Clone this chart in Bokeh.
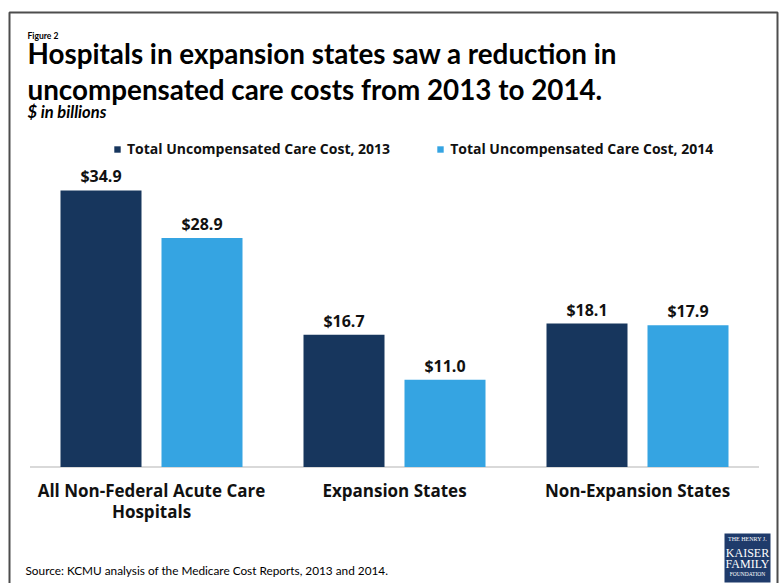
from bokeh.plotting import figure
from bokeh.models import ColumnDataSource, Label, BoxAnnotation, Range1d
from bokeh.transform import dodge
from bokeh.core.properties import value
from bokeh.embed import file_html
from bokeh.resources import INLINE

# ---- data ----
categories = ["All Non-Federal Acute Care\nHospitals", "Expansion States", "Non-Expansion States"]
cost_2013 = [34.9, 16.7, 18.1]
cost_2014 = [28.9, 11.0, 17.9]
series_names = ["Total Uncompensated Care Cost, 2013", "Total Uncompensated Care Cost, 2014"]
labels_2013 = ["$%.1f" % v for v in cost_2013]
labels_2014 = ["$%.1f" % v for v in cost_2014]

C2013 = "#17365D"
C2014 = "#35A4E2"
W, H = 783, 583

# layout constants (pixels)
GROUP_PX = 243.0          # pixels per category
FIRST_CENTER = 151.0      # x of first category centre
BASE_Y = 466.5            # y of the zero line
PX_PER_UNIT = 7.923       # pixels per $1 billion

pos = list(range(len(categories)))
src = ColumnDataSource(dict(pos=pos, cat=categories, v2013=cost_2013, v2014=cost_2014,
                            l2013=labels_2013, l2014=labels_2014, zero=[0] * len(pos)))

x0 = -FIRST_CENTER / GROUP_PX
y0 = -(H - BASE_Y) / PX_PER_UNIT
p = figure(width=W, height=H,
           x_range=Range1d(x0, x0 + W / GROUP_PX),
           y_range=Range1d(y0, y0 + H / PX_PER_UNIT),
           output_backend="svg", toolbar_location=None,
           x_axis_location=None, y_axis_location=None,
           min_border=0, min_border_left=0, min_border_right=0,
           min_border_top=0, min_border_bottom=0)
p.title = None
p.xgrid.visible = False
p.ygrid.visible = False
p.outline_line_color = None
p.background_fill_color = "white"
p.border_fill_color = "white"

off = 50.5 / GROUP_PX
bw = 81.0 / GROUP_PX

# zero line spanning the categories
p.segment(x0=-0.5, x1=len(categories) - 0.5, y0=0, y1=0, line_color="#D9D9D9", line_width=2)

p.vbar(x=dodge("pos", -off), top="v2013", width=bw, source=src,
       fill_color=C2013, line_color=None, legend_label=series_names[0])
p.vbar(x=dodge("pos", off), top="v2014", width=bw, source=src,
       fill_color=C2014, line_color=None, legend_label=series_names[1])

for key, o in (("l2013", -off), ("l2014", off)):
    vkey = "v" + key[1:]
    p.text(x=dodge("pos", o), y=vkey, text=key, source=src,
           text_align="center", text_baseline="alphabetic", y_offset=-14,
           text_font=value("Open Sans"), text_font_style="bold",
           text_font_size="16px", text_color="#111111")

# category labels (axis tick labels)
p.text(x="pos", y="zero", text="cat", source=src, text_align="center",
       text_baseline="top", y_offset=12, text_line_height=0.93,
       text_font=value("Open Sans"), text_font_style="bold",
       text_font_size="17px", text_color="#111111")

lg = p.legend[0]
lg.orientation = "horizontal"
lg.location = (113, 425)
lg.glyph_width = 8
lg.glyph_height = 8
lg.label_height = 14
lg.label_text_font = "Open Sans"
lg.label_text_font_style = "bold"
lg.label_text_font_size = "14px"
lg.label_text_color = "#111111"
lg.label_standoff = 6
lg.spacing = 46
lg.padding = 0
lg.margin = 0
lg.border_line_color = None
lg.background_fill_alpha = 0

def lab(x, y, text, size, style="bold", font="Lato", color="#000000", align="left"):
    p.add_layout(Label(x=x, y=y, x_units="canvas", y_units="canvas", text=text,
                       text_font=font, text_font_size=size, text_font_style=style,
                       text_color=color, text_align=align, text_baseline="alphabetic"))

lab(27, 35, "Figure 2", "8.5px")
lab(27, 53, "Hospitals in expansion states saw a reduction in", "27.8px")
lab(27, 89, "uncompensated care costs from 2013 to 2014.", "27.8px")
lab(27, 111, "$ in billions", "16.5px", style="bold italic")
lab(25, 570, "Source:  KCMU analysis of the Medicare Cost Reports, 2013 and 2014.", "11.8px",
    style="normal")

# frame border
p.add_layout(BoxAnnotation(left=9, right=777, top=12, bottom=600,
                           left_units="canvas", right_units="canvas",
                           top_units="canvas", bottom_units="canvas",
                           fill_color=None, line_color="#4d4d4d", line_alpha=1,
                           line_width=2))
# logo
p.add_layout(BoxAnnotation(left=724, right=770, top=533, bottom=582,
                           left_units="canvas", right_units="canvas",
                           top_units="canvas", bottom_units="canvas",
                           fill_color="#1F3B6B", fill_alpha=1, line_color=None))
lab(747, 538.5, "THE HENRY J.", "6px", style="normal", font="Liberation Serif", color="white", align="center")
lab(747, 552, "KAISER", "12px", style="normal", font="Liberation Serif", color="white", align="center")
lab(747, 563.5, "FAMILY", "12px", style="normal", font="Liberation Serif", color="white", align="center")
lab(747, 573.5, "FOUNDATION", "5.5px", style="normal", font="Liberation Serif", color="white", align="center")

open("out.html", "w").write(file_html(p, INLINE))
